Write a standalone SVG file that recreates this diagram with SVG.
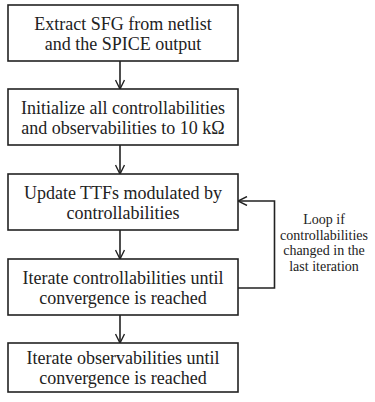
<svg xmlns="http://www.w3.org/2000/svg" width="375" height="402" viewBox="0 0 375 402">
  <defs>
    <marker id="arrow" viewBox="0 0 10 10" refX="10" refY="5" markerWidth="10" markerHeight="10" markerUnits="userSpaceOnUse" orient="auto">
      <path d="M1,0.5 L10,5 L1,9.5" fill="none" stroke="#222" stroke-width="1.4"/>
    </marker>
  </defs>
  <style>
    .box { fill: #fff; stroke: #222; stroke-width: 1.6; }
    .t { font-size: 18px; fill: #222; text-anchor: middle; }
    .note { font-size: 14px; fill: #222; text-anchor: middle; }
    .edge { fill: none; stroke: #222; stroke-width: 1.6; marker-end: url(#arrow); }
  </style>
  <rect width="375" height="402" fill="#fff"/>

  <g font-family="Liberation Serif, Times New Roman, serif">
  <g id="extract">
    <rect class="box" x="8" y="5" width="230" height="56"/>
    <text class="t" x="123" y="30">Extract SFG from netlist</text>
    <text class="t" x="123" y="50">and the SPICE output</text>
  </g>
  <g id="initialize">
    <rect class="box" x="8" y="89" width="230" height="56"/>
    <text class="t" x="123" y="114">Initialize all controllabilities</text>
    <text class="t" x="123" y="134">and observabilities to 10 kΩ</text>
  </g>
  <g id="update">
    <rect class="box" x="8" y="174" width="230" height="56"/>
    <text class="t" x="123" y="199">Update TTFs modulated by</text>
    <text class="t" x="123" y="219">controllabilities</text>
  </g>
  <g id="iterate-ctrl">
    <rect class="box" x="8" y="259" width="230" height="56"/>
    <text class="t" x="123" y="284">Iterate controllabilities until</text>
    <text class="t" x="123" y="304">convergence is reached</text>
  </g>
  <g id="iterate-obs">
    <rect class="box" x="8" y="343" width="230" height="49"/>
    <text class="t" x="123" y="364">Iterate observabilities until</text>
    <text class="t" x="123" y="384">convergence is reached</text>
  </g>

  <g id="connectors">
    <line class="edge" x1="120" y1="61" x2="120" y2="89"/>
    <line class="edge" x1="120" y1="145" x2="120" y2="174"/>
    <line class="edge" x1="120" y1="230" x2="120" y2="259"/>
    <line class="edge" x1="120" y1="315" x2="120" y2="343"/>
    <polyline class="edge" points="238,288 274.5,288 274.5,201 238,201"/>
  </g>

  <g id="loop-label">
    <text class="note" x="324" y="224">Loop if</text>
    <text class="note" x="324" y="240">controllabilities</text>
    <text class="note" x="324" y="255">changed in the</text>
    <text class="note" x="324" y="271">last iteration</text>
  </g>
  </g>
</svg>
